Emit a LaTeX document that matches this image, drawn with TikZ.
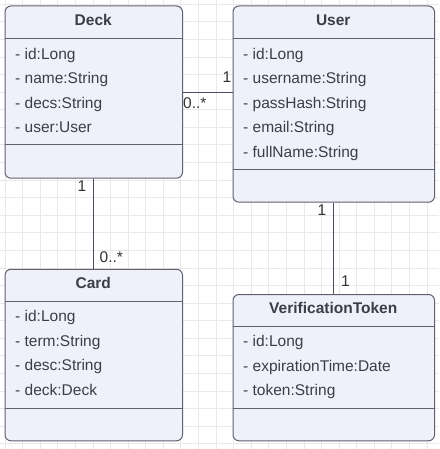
\documentclass[tikz,border=0pt]{standalone}
\usepackage{fontspec}
\setmainfont{Liberation Sans}
\definecolor{fillc}{HTML}{F0F0FB}
\definecolor{linec}{HTML}{5E6170}
\definecolor{textc}{HTML}{3B3E45}
\definecolor{gridc}{HTML}{E9E9E9}
\definecolor{labc}{HTML}{333333}
\begin{document}
\begin{tikzpicture}[x=1pt,y=-1pt,
  classbox/.style={draw=linec, fill=fillc, line width=1pt, rounded corners=6pt, anchor=north west, inner sep=0pt},
  divider/.style={draw=linec, line width=1pt},
  title/.style={font=\fontsize{15.5}{18}\selectfont\bfseries, text=textc, anchor=base, inner sep=0pt},
  attr/.style={font=\fontsize{15.5}{18}\selectfont, text=textc, anchor=base west, inner sep=0pt},
  mult/.style={font=\fontsize{15.5}{18}\selectfont, text=labc, inner sep=0pt},
  conn/.style={draw=linec!80!black, line width=0.9pt}]
\useasboundingbox (0,0) rectangle (439,449);
\fill[white] (0,0) rectangle (439,449);
% grid
\foreach \k in {0,...,24} \draw[gridc, line width=0.7pt] ({5+17.58*\k},0) -- ({5+17.58*\k},449);
\foreach \k in {0,...,25} \draw[gridc, line width=0.7pt] (0,{4.2+17.58*\k}) -- (439,{4.2+17.58*\k});

% Deck
\node[classbox, minimum width=177.5, minimum height=172.2] (deck) at (4.5,5.5) {};
\draw[divider] (4.5,38.3) -- (182,38.3);
\draw[divider] (4.5,145) -- (182,145);
\node[title] (deckt) at (93.25,26) {Deck};
\node[attr] (decka1) at (15,59.5) {- id:Long};
\node[attr] (decka2) at (15,83.9) {- name:String};
\node[attr] (decka3) at (15,108.3) {- decs:String};
\node[attr] (decka4) at (15,132.7) {- user:User};

% User
\node[classbox, minimum width=201.5, minimum height=196.2] (user) at (232.5,5.5) {};
\draw[divider] (232.5,38.3) -- (434,38.3);
\draw[divider] (232.5,169.3) -- (434,169.3);
\node[title] (usert) at (333.25,26) {User};
\node[attr] (usera1) at (243,59.5) {- id:Long};
\node[attr] (usera2) at (243,83.9) {- username:String};
\node[attr] (usera3) at (243,108.3) {- passHash:String};
\node[attr] (usera4) at (243,132.7) {- email:String};
\node[attr] (usera5) at (243,157.1) {- fullName:String};

% Card
\node[classbox, minimum width=177.5, minimum height=171.5] (card) at (4.5,268.8) {};
\draw[divider] (4.5,301) -- (182,301);
\draw[divider] (4.5,408.3) -- (182,408.3);
\node[title] (cardt) at (93.25,288.5) {Card};
\node[attr] (carda1) at (15,321.8) {- id:Long};
\node[attr] (carda2) at (15,346.2) {- term:String};
\node[attr] (carda3) at (15,370.6) {- desc:String};
\node[attr] (carda4) at (15,395) {- deck:Deck};

% VerificationToken
\node[classbox, minimum width=201.5, minimum height=146.3] (vt) at (232.5,294) {};
\draw[divider] (232.5,326) -- (434,326);
\draw[divider] (232.5,408.3) -- (434,408.3);
\node[title] (vtt) at (333.25,313.5) {VerificationToken};
\node[attr] (vta1) at (243,346.7) {- id:Long};
\node[attr] (vta2) at (243,371) {- expirationTime:Date};
\node[attr] (vta3) at (243,395.4) {- token:String};

% connectors
\draw[conn] (deck.east) -- (deck.east -| user.west);
\draw[conn] (deck.south) -- (card.north);
\draw[conn] (user.south) -- (vt.north);

% multiplicities
\node[mult, anchor=base east] (m1) at (231.5,82.7) {1};
\node[mult, anchor=base west] (m2) at (183,108.3) {0..*};
\node[mult, anchor=base east] (m3) at (86.5,191) {1};
\node[mult, anchor=base west] (m4) at (99.5,262.3) {0..*};
\node[mult, anchor=base east] (m5) at (326.5,215.7) {1};
\node[mult, anchor=base west] (m6) at (341,286) {1};
\end{tikzpicture}
\end{document}
